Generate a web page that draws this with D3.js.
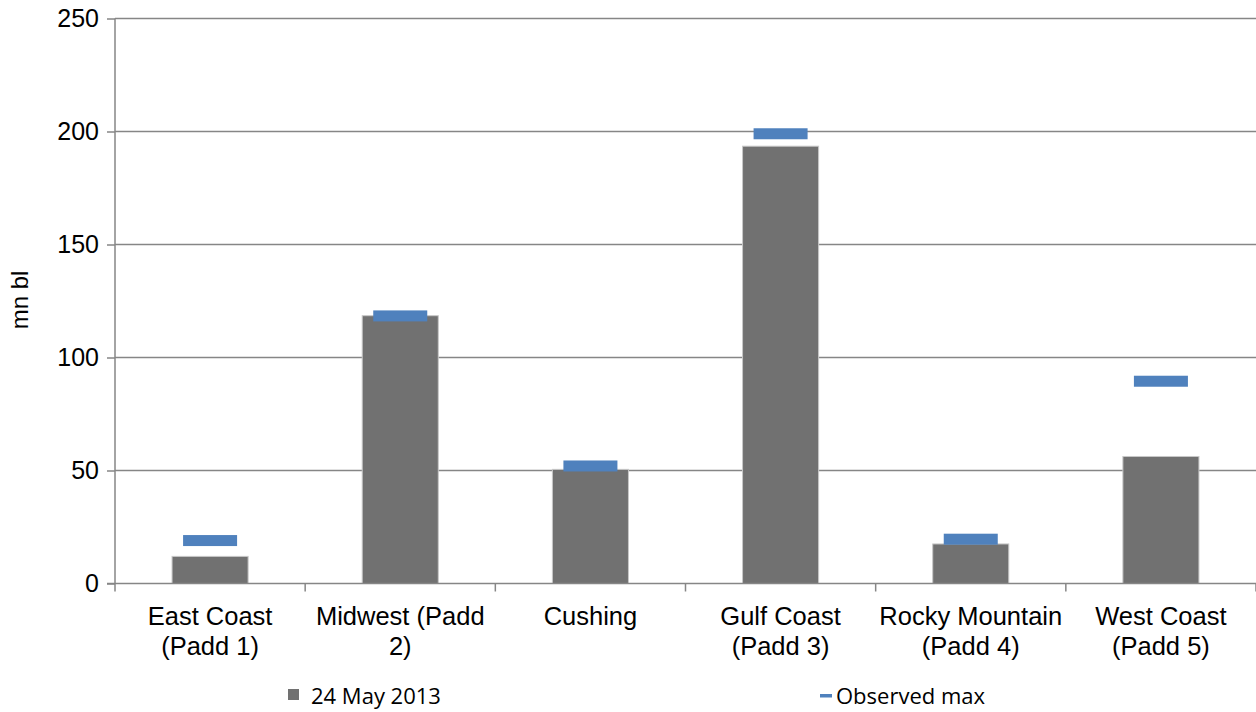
<!DOCTYPE html>
<html>
<head>
<meta charset="utf-8">
<script src="https://cdn.jsdelivr.net/npm/d3@7"></script>
<style>
  body { margin: 0; background: #fff; }
  svg { display: block; }
  .tick text { font-family: "Liberation Sans", Arial, sans-serif; }
</style>
</head>
<body>
<svg width="1256" height="712"></svg>
<script>
// data
var categories = [["East Coast", "(Padd 1)"], ["Midwest (Padd", "2)"], ["Cushing"],
                  ["Gulf Coast", "(Padd 3)"], ["Rocky Mountain", "(Padd 4)"], ["West Coast", "(Padd 5)"]];
var stocks = [12, 118.5, 50.5, 193.5, 17.5, 56.2];      // 24 May 2013
var observedMax = [19, 118.4, 52, 199, 19.6, 89.5];
var yTicks = [0, 50, 100, 150, 200, 250];

var svg = d3.select("svg"),
    pLeft = 115, pRight = 1256, pTop = 18.5, pBottom = 583.5;

var grey = "#868686";

var x = d3.scaleBand()
    .domain(d3.range(categories.length))
    .range([pLeft, pRight])
    .paddingInner(0.6)
    .paddingOuter(0.3);

var y = d3.scaleLinear().domain([0, 250]).range([pBottom, pTop]);

// gridlines
svg.append("g")
    .selectAll("line")
    .data(yTicks.slice(1))
    .enter().append("line")
    .attr("x1", pLeft).attr("x2", pRight)
    .attr("y1", function(d) { return y(d); })
    .attr("y2", function(d) { return y(d); })
    .attr("stroke", grey)
    .attr("stroke-width", 1.5);

// y axis
var yAxis = svg.append("g")
    .attr("transform", "translate(" + pLeft + ",0)")
    .call(d3.axisLeft(y).tickValues(yTicks).tickSize(8).tickPadding(8));
yAxis.selectAll("path, line").attr("stroke", grey).attr("stroke-width", 1.5);
yAxis.select(".domain").attr("d", "M0," + pTop + "V" + pBottom);
yAxis.selectAll("text").attr("font-size", 25).attr("fill", "#000");

// bars
svg.append("g")
    .selectAll("rect")
    .data(stocks)
    .enter().append("rect")
    .attr("x", function(d, i) { return x(i); })
    .attr("width", x.bandwidth())
    .attr("y", function(d) { return y(d); })
    .attr("height", function(d) { return pBottom - y(d); })
    .attr("fill", "#717171")
    .attr("stroke", "#c8c8c8")
    .attr("stroke-width", 1);

// observed max markers
var mw = x.bandwidth() * 0.71;
svg.append("g")
    .selectAll("rect")
    .data(observedMax)
    .enter().append("rect")
    .attr("x", function(d, i) { return x(i) + x.bandwidth() / 2 - mw / 2; })
    .attr("width", mw)
    .attr("y", function(d) { return y(d) - 5.5; })
    .attr("height", 11)
    .attr("fill", "#4f81bd");

// x axis line + ticks at category boundaries
svg.append("line")
    .attr("x1", pLeft - 8).attr("x2", pRight)
    .attr("y1", pBottom).attr("y2", pBottom)
    .attr("stroke", grey).attr("stroke-width", 1.5);

var step = x.step();
svg.append("g")
    .selectAll("line")
    .data(d3.range(categories.length + 1))
    .enter().append("line")
    .attr("x1", function(i) { return pLeft + i * step; })
    .attr("x2", function(i) { return pLeft + i * step; })
    .attr("y1", pBottom).attr("y2", pBottom + 8)
    .attr("stroke", grey).attr("stroke-width", 1.5);

// category labels
var lab = svg.append("g")
    .selectAll("text")
    .data(categories)
    .enter().append("text")
    .attr("text-anchor", "middle")
    .attr("font-family", "'Liberation Sans', Arial, sans-serif")
    .attr("font-size", 25.5)
    .attr("x", function(d, i) { return x(i) + x.bandwidth() / 2; })
    .attr("y", 625);
lab.selectAll("tspan")
    .data(function(d) { return d; })
    .enter().append("tspan")
    .attr("x", function() { return this.parentNode.getAttribute("x"); })
    .attr("dy", function(d, i) { return i ? 30 : 0; })
    .text(function(d) { return d; });

// y label
svg.append("text")
    .attr("transform", "translate(28,300) rotate(-90)")
    .attr("text-anchor", "middle")
    .attr("font-family", "'Liberation Sans', Arial, sans-serif")
    .attr("font-size", 24)
    .text("mn bl");

// legend
var legend = svg.append("g").attr("font-family", "'Open Sans', sans-serif").attr("font-size", 22);
legend.append("rect").attr("x", 288).attr("y", 689).attr("width", 11).attr("height", 11).attr("fill", "#717171");
legend.append("text").attr("x", 311).attr("y", 704).text("24 May 2013");
legend.append("rect").attr("x", 820).attr("y", 694).attr("width", 12).attr("height", 3.5).attr("fill", "#4f81bd");
legend.append("text").attr("x", 836).attr("y", 704).text("Observed max");
</script>
</body>
</html>
